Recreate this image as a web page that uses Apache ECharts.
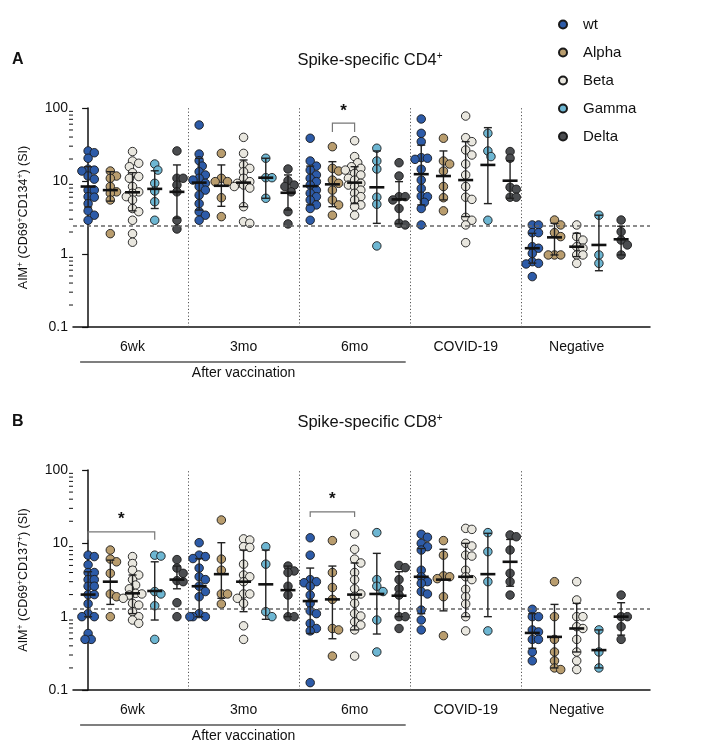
<!DOCTYPE html>
<html>
<head>
<meta charset="UTF-8">
<title></title>
<script src="https://cdn.jsdelivr.net/npm/echarts@6/dist/echarts.min.js"></script>
</head>
<body style="margin:0">
<div id="chart" style="width:705px;height:742px;"></div>
<script type="text/javascript">
var variants = ['wt', 'Alpha', 'Beta', 'Gamma', 'Delta'];
var groups = ['6wk', '3mo', '6mo', 'COVID-19', 'Negative'];
var colors = ['#2D5BA8', '#B99D6E', '#E9E7DF', '#6DB6D2', '#4B4D50'];

// panel A, CD4 (each group: wt, Alpha, Beta, Gamma, Delta)
var cd4_6wk = [
  [25.8, 24.4, 20.5, 14.5, 14.1, 13.7, 11.7, 10.6, 7.5, 7.5, 6.1, 6.0, 4.9, 3.9, 3.4, 2.9],
  [13.7, 11.7, 10.9, 8.4, 7.1, 6.8, 5.5, 1.9],
  [25.3, 18.8, 17.5, 15.7, 13.0, 11.5, 10.9, 8.4, 7.1, 6.8, 6.1, 5.5, 4.2, 3.8, 2.9, 1.9, 1.45],
  [17.1, 14.1, 9.3, 7.3, 5.2, 2.9],
  [25.8, 10.9, 10.9, 8.8, 7.1, 2.9, 2.2]
];
var cd4_3mo = [
  [58.5, 23.4, 19, 16, 13.4, 12.1, 10.9, 10.3, 9.3, 8.4, 7.5, 6.4, 4.9, 3.8, 3.4, 2.9],
  [23.9, 10.9, 9.8, 9.8, 5.9, 3.25],
  [39.6, 23.9, 16.6, 14.9, 13.4, 10.9, 9.8, 9.3, 8.8, 8.4, 8.0, 4.45, 2.77, 2.63],
  [20.5, 11.1, 11.1, 5.8],
  [14.6, 10.1, 8.8, 8.4, 7.1, 3.8, 2.58]
];
var cd4_6mo = [
  [38.5, 18.8, 16, 14.1, 12.1, 10.9, 9.8, 8.8, 7.5, 6.8, 6.1, 5.5, 4.7, 4.2, 2.9],
  [29.5, 14.9, 13.7, 10.3, 9.3, 7.5, 5.5, 4.7, 3.4],
  [35.6, 21.6, 17.8, 15.7, 14.9, 14.1, 12.7, 12.1, 10.9, 10.3, 9.3, 8.8, 8.4, 7.5, 6.8, 6.1, 5.5, 4.7, 4.45, 3.4],
  [28.1, 18.8, 14.6, 6.0, 4.8, 1.29],
  [17.8, 11.7, 6.1, 6.1, 5.5, 4.2, 2.63, 2.5]
];
var cd4_covid = [
  [70.7, 45, 34.6, 20.9, 20.5, 19.8, 14.5, 10.3, 7.9, 6.2, 6.1, 5.1, 4.2, 2.5],
  [38.5, 18.8, 17.1, 13.7, 8.4, 5.9, 3.9],
  [77.6, 39.2, 34.6, 26.6, 22.7, 17.1, 12.1, 8.4, 6.0, 5.6, 3.18, 2.9, 2.5, 1.43],
  [45, 25.8, 21.6, 2.9],
  [25.3, 20.5, 8.2, 7.7, 6.0, 6.0]
];
var cd4_neg = [
  [2.5, 2.5, 1.96, 1.96, 1.26, 1.2, 1.02, 0.785, 0.745, 0.73, 0.49],
  [2.92, 2.5, 1.96, 1.73, 0.97, 0.97, 0.97],
  [2.5, 1.73, 1.55, 1.26, 1.2, 0.97, 0.97, 0.745],
  [3.4, 0.97, 0.745],
  [2.92, 2.02, 1.55, 1.33, 0.97]
];
var cd4Mean = [8.4, 7.5, 7.0, 7.8, 7.1, 9.5, 8.6, 9.5, 11.1, 6.9, 8.5, 9.0, 9.5, 8.2, 5.6, 12.4, 11.7, 10.3, 16.6, 10.1, 1.2, 1.69, 1.26, 1.33, 1.59];
var cd4Low = [4.4, 5.3, 3.9, 4.2, 3.1, 4.0, 4.5, 4.45, 5.8, 4.0, 4.7, 4.45, 4.9, 2.63, 2.6, 4.7, 5.5, 3.25, 4.9, 5.8, 0.75, 0.97, 0.92, 0.59, 0.97];
var cd4High = [15.7, 13.4, 13.0, 13.8, 16.6, 20.5, 16.6, 19.4, 20.5, 12.1, 16, 18.4, 15.7, 25.8, 9.8, 31, 25.8, 34.6, 53.8, 19, 1.92, 2.63, 1.92, 3.4, 2.4];
var cd4Cutoff = 2.4;

// panel B, CD8
var cd8_6wk = [
  [6.9, 6.6, 5.1, 4.0, 4.0, 3.2, 3.2, 2.6, 2.6, 2.0, 2.0, 1.5, 1.1, 1.0, 1.0, 0.59, 0.49, 0.49],
  [8.1, 6.1, 5.6, 3.9, 2.04, 1.87, 1.0],
  [6.6, 5.3, 4.3, 3.7, 3.2, 2.7, 2.4, 2.08, 2.04, 1.97, 1.78, 1.52, 1.44, 1.17, 1.0, 0.9, 0.81],
  [6.9, 6.7, 2.2, 2.04, 1.41, 0.49],
  [6.0, 4.6, 3.9, 3.1, 3.0, 1.55, 1.0]
];
var cd8_3mo = [
  [10.2, 6.9, 6.6, 6.2, 4.6, 3.5, 3.2, 2.6, 2.2, 1.87, 1.1, 1.0, 1.0, 1.0],
  [20.8, 6.1, 4.3, 2.04, 2.04, 1.49],
  [11.5, 11.1, 9.0, 8.8, 5.2, 3.7, 3.5, 3.0, 2.04, 2.04, 1.78, 1.52, 0.75, 0.49],
  [9.0, 5.2, 1.17, 1.0],
  [4.9, 4.2, 4.0, 2.6, 1.97, 1.0, 1.0]
];
var cd8_6mo = [
  [11.9, 6.9, 3.2, 3.0, 2.9, 2.6, 1.97, 1.52, 1.2, 1.1, 0.81, 0.69, 0.64, 0.126],
  [10.9, 4.0, 2.5, 1.72, 0.69, 0.66, 0.29],
  [13.4, 8.3, 6.1, 5.4, 4.0, 3.2, 2.4, 2.04, 1.9, 1.52, 1.1, 1.02, 0.85, 0.77, 0.66, 0.29],
  [14.0, 3.2, 2.6, 2.2, 0.9, 0.33],
  [5.0, 4.66, 3.2, 2.4, 1.97, 1.0, 1.0, 0.69]
];
var cd8_covid = [
  [13.3, 12.1, 10.0, 9.0, 8.1, 4.3, 3.5, 3.0, 2.85, 2.2, 2.04, 1.23, 0.9, 0.66],
  [10.9, 6.9, 3.6, 3.5, 3.3, 1.87, 0.55],
  [16.0, 15.5, 10.0, 9.2, 6.9, 6.7, 4.3, 3.5, 3.2, 2.36, 1.87, 1.49, 1.0, 0.64],
  [14.0, 7.7, 3.0, 0.64],
  [13.0, 12.3, 8.1, 3.9, 3.0, 1.97]
];
var cd8_neg = [
  [1.26, 1.0, 1.0, 0.66, 0.62, 0.49, 0.49, 0.33, 0.25],
  [3.0, 1.0, 0.49, 0.33, 0.25, 0.2, 0.19],
  [3.0, 1.69, 1.0, 1.0, 0.73, 0.69, 0.49, 0.33, 0.25, 0.19],
  [0.66, 0.33, 0.2],
  [1.97, 1.0, 1.0, 0.73, 0.49]
];
var cd8Mean = [2.0, 3.0, 2.08, 2.24, 3.2, 2.6, 3.8, 3.0, 2.76, 2.3, 1.63, 1.72, 2.0, 2.04, 1.93, 3.5, 3.2, 3.5, 3.8, 5.6, 0.6, 0.53, 0.69, 0.35, 1.0];
var cd8Low = [1.0, 1.47, 1.1, 0.9, 2.4, 1.0, 1.78, 1.17, 0.92, 1.0, 0.59, 0.5, 0.66, 0.58, 1.0, 1.1, 1.2, 1.0, 1.0, 2.6, 0.37, 0.2, 0.33, 0.2, 0.56];
var cd8High = [4.1, 5.9, 3.7, 5.6, 4.9, 6.2, 10.2, 8.1, 8.1, 4.9, 4.6, 4.9, 5.4, 7.3, 4.1, 8.5, 8.3, 10, 13.7, 11.3, 1.1, 1.47, 1.52, 0.66, 1.55];
var cd8Cutoff = 1.3;

// significance brackets: [col1, col2, top, end, star]
var cd4Brackets = [[11, 12, 62, 47, 90]];
var cd8Brackets = [[0, 3, 14.3, 11.2, 21.5], [10, 12, 26.8, 22.9, 40]];

var minorValues = [];
[0.1, 1, 10].forEach(function (d) {
  for (var k = 2; k <= 9; k++) minorValues.push([k * d]);
});

var font = 'Liberation Sans, Arial, sans-serif';
var xMin = -0.68, xMax = 25.3;
var gridW = 577;
var grids = [
  {left: 73, top: 108, width: gridW, height: 219},
  {left: 73, top: 470, width: gridW, height: 220}
];

// spread overlapping points sideways (pixel based, like a column scatter)
function swarm(values, col, grid) {
  var pxX = grid.width / (xMax - xMin);
  var pxDec = grid.height / 3;
  var D = 6.2, step = 3.1;
  var placed = [];
  var sorted = values.slice().sort(function (a, b) { return b - a; });
  return sorted.map(function (v) {
    var y = Math.log10(v) * pxDec;
    var off = 0;
    for (var i = 0; i < 7; i++) {
      off = i === 0 ? 0 : (i % 2 ? 1 : -1) * Math.ceil(i / 2) * step;
      var ok = placed.every(function (p) {
        return Math.sqrt((p[0] - off) * (p[0] - off) + (p[1] - y) * (p[1] - y)) >= D;
      });
      if (ok) break;
    }
    placed.push([off, y]);
    return [col + off / pxX, v];
  });
}

function panelSeries(idx, groupData, mean, low, high, cutoff, brackets) {
  var out = [];
  variants.forEach(function (name, vi) {
    var pts = [];
    groupData.forEach(function (g, gi) {
      pts = pts.concat(swarm(g[vi], gi * 5 + vi, grids[idx]));
    });
    out.push({
      name: name,
      type: 'scatter',
      xAxisIndex: idx, yAxisIndex: idx,
      symbolSize: 8.5,
      itemStyle: {color: colors[vi], borderColor: '#1a1a1a', borderWidth: 0.9, opacity: 1},
      data: pts,
      z: 3,
      silent: true
    });
  });
  var bars = mean.map(function (m, i) { return [i, m, low[i], high[i]]; });
  out.push({
    type: 'custom',
    xAxisIndex: idx, yAxisIndex: idx,
    data: bars,
    encode: {x: 0, y: 1},
    z: 5,
    silent: true,
    renderItem: function (params, api) {
      var pm = api.coord([api.value(0), api.value(1)]);
      var plo = api.coord([api.value(0), api.value(2)]);
      var phi = api.coord([api.value(0), api.value(3)]);
      var x = pm[0];
      var st = {stroke: '#222', lineWidth: 1.4};
      return {type: 'group', children: [
        {type: 'line', shape: {x1: x, y1: phi[1], x2: x, y2: plo[1]}, style: st},
        {type: 'line', shape: {x1: x - 4, y1: phi[1], x2: x + 4, y2: phi[1]}, style: st},
        {type: 'line', shape: {x1: x - 4, y1: plo[1], x2: x + 4, y2: plo[1]}, style: st},
        {type: 'line', shape: {x1: x - 7.5, y1: pm[1], x2: x + 7.5, y2: pm[1]}, style: {stroke: '#111', lineWidth: 2.6}}
      ]};
    }
  });
  // log minor ticks on the y axis
  out.push({
    type: 'custom',
    xAxisIndex: idx, yAxisIndex: idx,
    data: minorValues,
    encode: {y: 0},
    silent: true,
    clip: false,
    renderItem: function (params, api) {
      var p = api.coord([xMin, api.value(0)]);
      return {type: 'line', shape: {x1: p[0] - 4, y1: p[1], x2: p[0], y2: p[1]},
        style: {stroke: '#111', lineWidth: 1}};
    }
  });
  out.push({
    type: 'custom',
    xAxisIndex: idx, yAxisIndex: idx,
    data: brackets,
    encode: {x: 0, y: 2},
    silent: true,
    clip: false,
    renderItem: function (params, api) {
      var a = api.coord([api.value(0), api.value(2)]);
      var b = api.coord([api.value(1), api.value(3)]);
      var s = api.coord([(api.value(0) + api.value(1)) / 2, api.value(4)]);
      return {type: 'group', children: [
        {type: 'polyline', shape: {points: [[a[0], b[1]], [a[0], a[1]], [b[0], a[1]], [b[0], b[1]]]},
          style: {stroke: '#777', lineWidth: 1.2, fill: null}},
        {type: 'text', style: {text: '*', x: s[0], y: s[1], align: 'center', verticalAlign: 'middle',
          fontSize: 17, fontWeight: 'bold', fontFamily: font, fill: '#111'}}
      ]};
    }
  });
  out.push({
    type: 'line',
    xAxisIndex: idx, yAxisIndex: idx,
    data: [],
    silent: true,
    markLine: {
      silent: true,
      symbol: 'none',
      label: {show: false},
      animation: false,
      data: [
        {xAxis: 4.5, lineStyle: {type: [1.2, 2.2], color: '#555', width: 1}},
        {xAxis: 9.5, lineStyle: {type: [1.2, 2.2], color: '#555', width: 1}},
        {xAxis: 14.5, lineStyle: {type: [1.2, 2.2], color: '#555', width: 1}},
        {xAxis: 19.5, lineStyle: {type: [1.2, 2.2], color: '#555', width: 1}},
        {yAxis: cutoff, lineStyle: {type: [4, 3], color: '#666', width: 1.6}}
      ]
    }
  });
  return out;
}

function xAxisOpt(idx) {
  return {
    type: 'value', gridIndex: idx, min: xMin, max: xMax,
    axisLine: {show: true, onZero: false, lineStyle: {color: '#111', width: 1.5}},
    axisTick: {show: false},
    splitLine: {show: false},
    axisLabel: {
      customValues: [2, 7, 12, 17, 22],
      margin: 13,
      fontSize: 14, color: '#111', fontFamily: font,
      formatter: function (v) { return groups[Math.round((v - 2) / 5)]; }
    }
  };
}

function yAxisOpt(idx, marker) {
  return {
    type: 'log', logBase: 10, gridIndex: idx, min: 0.1, max: 100,
    name: '{n|AIM}{s|+}{n| (CD69}{s|+}{n|' + marker + '}{s|+}{n|) (SI)}',
    nameLocation: 'middle', nameRotate: 90, nameGap: 42,
    nameTextStyle: {
      rich: {
        n: {fontSize: 12.5, fontFamily: font, color: '#111'},
        s: {fontSize: 8.5, fontFamily: font, color: '#111', verticalAlign: 'top', padding: [0, 0, 6, 0]}
      }
    },
    axisLine: {show: true, lineStyle: {color: '#111', width: 1.5}},
    axisTick: {show: true, length: 6, lineStyle: {color: '#111', width: 1.2}},
    splitLine: {show: false},
    axisLabel: {fontSize: 14, color: '#111', fontFamily: font, margin: 5,
      formatter: function (v) { return String(+v.toPrecision(3)); }}
  };
}

var chart = echarts.init(document.getElementById('chart'));
var option = {
  animation: false,
  backgroundColor: '#fff',
  grid: grids,
  xAxis: [xAxisOpt(0), xAxisOpt(1)],
  yAxis: [yAxisOpt(0, 'CD134'), yAxisOpt(1, 'CD137')],
  legend: {
    data: variants,
    orient: 'vertical',
    left: 553, top: 11,
    itemWidth: 30, itemHeight: 8, itemGap: 11,
    icon: 'circle',
    textStyle: {fontSize: 15, fontFamily: font, color: '#111', lineHeight: 17},
    selectedMode: false
  },
  series: []
    .concat(panelSeries(0, [cd4_6wk, cd4_3mo, cd4_6mo, cd4_covid, cd4_neg], cd4Mean, cd4Low, cd4High, cd4Cutoff, cd4Brackets))
    .concat(panelSeries(1, [cd8_6wk, cd8_3mo, cd8_6mo, cd8_covid, cd8_neg], cd8Mean, cd8Low, cd8High, cd8Cutoff, cd8Brackets))
};
chart.setOption(option, true);

// titles, panel letters and the "After vaccination" bracket
var graphics = [];
[['A', 'CD4'], ['B', 'CD8']].forEach(function (t, i) {
  var g = grids[i];
  var left = chart.convertToPixel({gridIndex: i}, [-0.36, 0.1]);
  var right = chart.convertToPixel({gridIndex: i}, [14.3, 0.1]);
  var mid = chart.convertToPixel({gridIndex: i}, [7, 0.1]);
  var bottom = g.top + g.height;
  graphics.push(
    {type: 'text', left: 12, top: g.top - 56, style: {text: t[0], fontSize: 16, fontWeight: 'bold', fontFamily: font, fill: '#111'}},
    {type: 'text', x: 370, y: g.top - 48, style: {
      text: '{n|Spike-specific ' + t[1] + '}{s|+}', align: 'center', verticalAlign: 'middle',
      rich: {n: {fontSize: 16.5, fontFamily: font, fill: '#111'},
             s: {fontSize: 10, fontFamily: font, fill: '#111', verticalAlign: 'top', padding: [0, 0, 8, 0]}}
    }},
    {type: 'line', shape: {x1: left[0], y1: bottom + 35, x2: right[0], y2: bottom + 35},
      style: {stroke: '#555', lineWidth: 1.5}},
    {type: 'text', x: mid[0], y: bottom + 46, style: {text: 'After vaccination', align: 'center',
      verticalAlign: 'middle', fontSize: 14, fontFamily: font, fill: '#111'}}
  );
});
chart.setOption({graphic: graphics});
</script>
</body>
</html>
